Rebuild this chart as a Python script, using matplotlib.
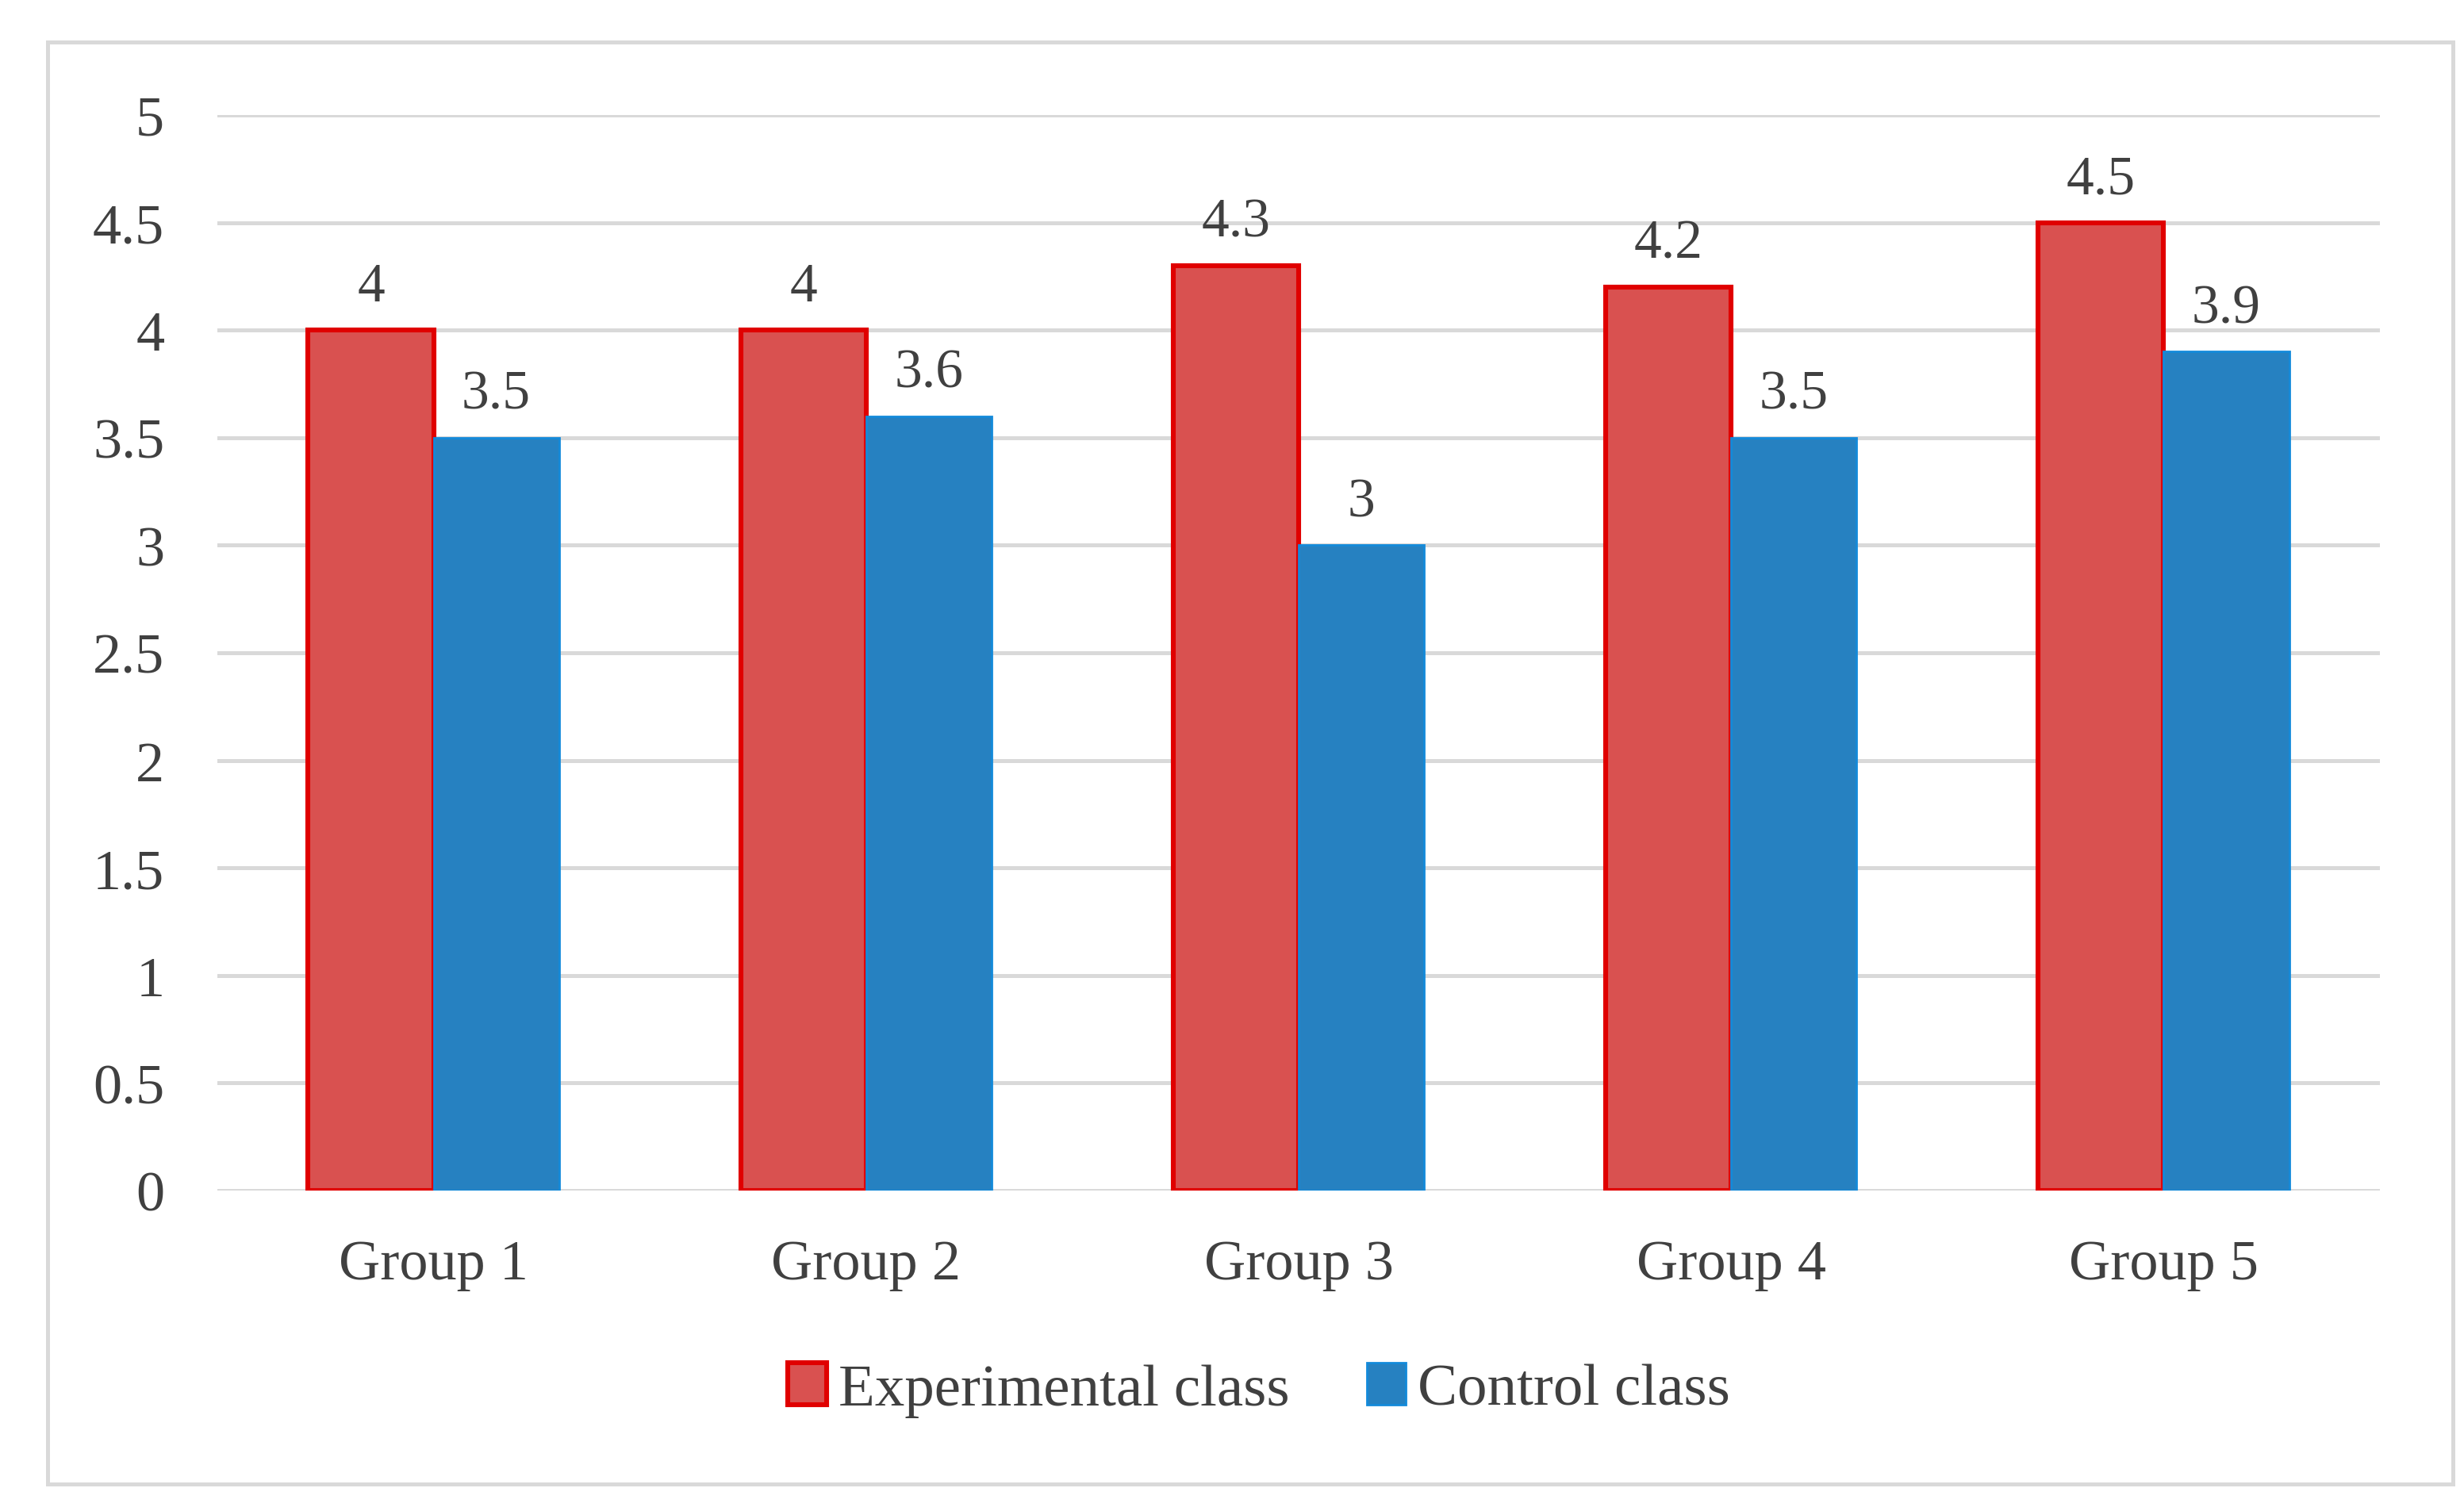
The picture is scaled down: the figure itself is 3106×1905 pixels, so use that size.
import numpy as np
import matplotlib.pyplot as plt
from matplotlib.patches import Rectangle

groups = ["Group 1", "Group 2", "Group 3", "Group 4", "Group 5"]
experimental = [4, 4, 4.3, 4.2, 4.5]
control = [3.5, 3.6, 3, 3.5, 3.9]
yticks = [0, 0.5, 1, 1.5, 2, 2.5, 3, 3.5, 4, 4.5, 5]
ytick_labels = ["0", "0.5", "1", "1.5", "2", "2.5", "3", "3.5", "4", "4.5", "5"]

plt.rcParams["font.family"] = ["Liberation Serif", "DejaVu Serif"]
text_color = "#404040"
grid_color = "#d9d9d9"

fig = plt.figure(figsize=(15.53, 9.53), dpi=200)
ax = fig.add_axes([0.0882, 0.2120, 0.8777, 0.7114])

# outer chart border
fig.patches.append(Rectangle((0.0193, 0.0178), 0.9762, 0.9539,
                             transform=fig.transFigure, fill=False,
                             edgecolor=grid_color, linewidth=1.8))

x = np.arange(len(groups))
w = 0.29
b1 = ax.bar(x - w / 2, experimental, w, color="#d95150", edgecolor="#e00000",
            linewidth=2.2, label="Experimental class", zorder=3)
b2 = ax.bar(x + w / 2, control, w, color="#2681c1", edgecolor="#138ada",
            linewidth=1.0, label="Control class", zorder=3)

for bars, vals in ((b1, experimental), (b2, control)):
    for r, v in zip(bars, vals):
        ax.annotate(f"{v:g}", (r.get_x() + r.get_width() / 2, v),
                    xytext=(0, 8), textcoords="offset points",
                    ha="center", va="bottom", fontsize=25, color=text_color)

ax.set_xlim(-0.5, len(groups) - 0.5)
ax.set_ylim(0, 5)
ax.set_yticks(yticks)
ax.set_yticklabels(ytick_labels)
ax.set_xticks(x)
ax.set_xticklabels(groups)
ax.tick_params(axis="y", length=0, pad=24, labelsize=26, labelcolor=text_color)
ax.tick_params(axis="x", length=0, pad=22, labelsize=26, labelcolor=text_color)
ax.grid(axis="y", color=grid_color, linewidth=1.8, zorder=0)
ax.set_axisbelow(True)
for s in ax.spines.values():
    s.set_visible(False)

fig.legend(loc="center", bbox_to_anchor=(0.511, 0.080), ncol=2, frameon=False,
           fontsize=27, labelcolor=text_color, handlelength=0.65,
           handleheight=0.7, handletextpad=0.2, columnspacing=1.3)

fig.savefig("out.png", dpi=200, facecolor="white")
